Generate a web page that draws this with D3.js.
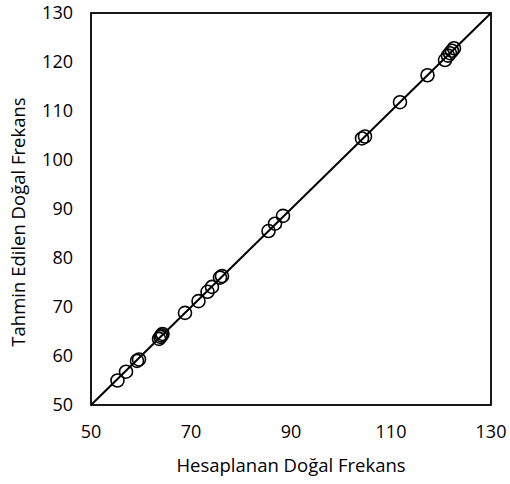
<!DOCTYPE html>
<html>
<head>
<meta charset="utf-8">
<script src="https://cdn.jsdelivr.net/npm/d3@7"></script>
<style>
  body { margin: 0; background: #fff; }
  text { font-family: "Open Sans", sans-serif; fill: #000; }
</style>
</head>
<body>
<svg id="chart"></svg>
<script>
// calculated (x) vs predicted (y) natural frequency
const hesaplanan = [55.3, 57.0, 59.2, 59.6, 63.6, 63.9, 64.1, 64.3, 68.8, 71.5, 73.3, 74.2, 75.8, 76.2,
                    85.5, 86.8, 88.4, 104.2, 104.8, 111.8, 117.3, 120.8, 121.4, 121.8, 122.2, 122.6];
const tahmin     = [55.0, 56.8, 59.0, 59.3, 63.5, 63.9, 64.2, 64.5, 68.8, 71.2, 73.1, 74.1, 76.0, 76.3,
                    85.5, 87.0, 88.6, 104.4, 104.8, 111.8, 117.3, 120.4, 121.3, 121.8, 122.3, 122.8];
const ticks = [50, 70, 90, 110, 130];
const yTicks = [50, 60, 70, 80, 90, 100, 110, 120, 130];

const width = 510, height = 484;
const marginLeft = 91, marginRight = 19, marginTop = 13, marginBottom = 79;

const svg = d3.select("#chart")
    .attr("width", width)
    .attr("height", height);

const x = d3.scaleLinear()
    .domain([50, 130])
    .range([marginLeft, width - marginRight]);

const y = d3.scaleLinear()
    .domain([50, 130])
    .range([height - marginBottom, marginTop]);

// x tick labels
svg.append("g")
    .selectAll("text")
    .data(ticks)
    .join("text")
    .attr("x", d => x(d))
    .attr("y", height - marginBottom + 33)
    .attr("text-anchor", "middle")
    .attr("font-size", 18)
    .text(d => d);

// y tick labels
svg.append("g")
    .selectAll("text")
    .data(yTicks)
    .join("text")
    .attr("x", marginLeft - 18)
    .attr("y", d => y(d))
    .attr("dy", "0.35em")
    .attr("text-anchor", "end")
    .attr("font-size", 18)
    .text(d => d);

// 1:1 line
svg.append("line")
    .attr("x1", x(50)).attr("y1", y(50))
    .attr("x2", x(130)).attr("y2", y(130))
    .attr("stroke", "#000")
    .attr("stroke-width", 2);

// points
svg.append("g")
    .selectAll("circle")
    .data(hesaplanan.map((v, i) => [v, tahmin[i]]))
    .join("circle")
    .attr("cx", d => x(d[0]))
    .attr("cy", d => y(d[1]))
    .attr("r", 6.5)
    .attr("fill", "none")
    .attr("stroke", "#000")
    .attr("stroke-width", 1.6);

// plot frame
svg.append("rect")
    .attr("x", x(50))
    .attr("y", y(130))
    .attr("width", x(130) - x(50))
    .attr("height", y(50) - y(130))
    .attr("fill", "none")
    .attr("stroke", "#000")
    .attr("stroke-width", 1.8);

// axis titles
svg.append("text")
    .attr("x", (x(50) + x(130)) / 2)
    .attr("y", 472)
    .attr("text-anchor", "middle")
    .attr("font-size", 18.5)
    .text("Hesaplanan Doğal Frekans");

svg.append("text")
    .attr("transform", `translate(25, 222) rotate(-90)`)
    .attr("text-anchor", "middle")
    .attr("font-size", 18.5)
    .text("Tahmin Edilen Doğal Frekans");
</script>
</body>
</html>
